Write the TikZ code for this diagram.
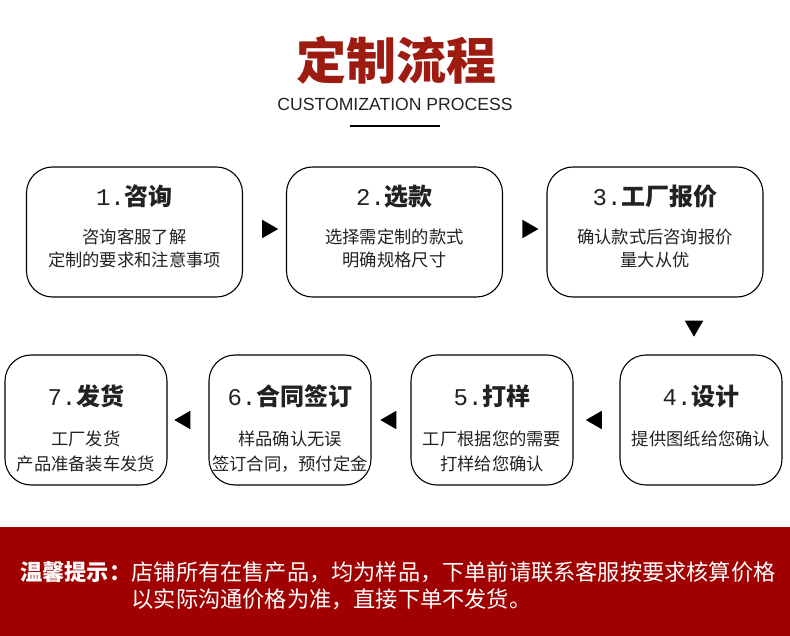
\documentclass[tikz,border=0pt]{standalone}
\usepackage{fontspec}
\setmainfont{Noto Sans CJK SC}
\newfontfamily\latinsans{Liberation Sans}
\newfontfamily\digitmono{Liberation Mono}
\usetikzlibrary{positioning,shapes.geometric}
\definecolor{cpred}{HTML}{9E1B12}
\definecolor{cpband}{HTML}{A10000}
\definecolor{cpink}{HTML}{222222}

\begin{document}
\begin{tikzpicture}[
  x=1pt, y=-1pt,
  every node/.style={inner sep=0pt},
  stagebox/.style={draw=black, line width=1.1pt, fill=white, rounded corners=26pt, minimum height=130pt},
  widebox/.style={stagebox, minimum width=216pt},
  narrowbox/.style={stagebox, minimum width=162pt},
  head/.style={font=\fontsize{24}{28}\selectfont\bfseries, text=cpink},
  bodyup/.style={font=\fontsize{17.3}{23}\selectfont, text=cpink, align=center, anchor=north},
  bodylow/.style={font=\fontsize{17.3}{25}\selectfont, text=cpink, align=center, anchor=north},
  tri/.style={isosceles triangle, isosceles triangle apex angle=60, fill=black, minimum height=16pt},
  tipnote/.style={font=\fontsize{22.2}{26}\selectfont, text=white, anchor=west}
]
\useasboundingbox (0,0) rectangle (790,636);

% heading
\node[font=\fontsize{50}{56}\selectfont\bfseries, text=cpred] (title) at (396,60) {定制流程};
\node[font=\latinsans\fontsize{17.6}{20}\selectfont, text=cpink] (subtitle) at (395,104) {CUSTOMIZATION PROCESS};
\coordinate (ruleL) at (350,126);
\coordinate (ruleR) at (440,126);
\draw[line width=1.2pt] (ruleL) -- (ruleR);

% upper row
\node[widebox] (consult) at (134.5,232) {};
\node[widebox] (choose) at (394.5,232) {};
\node[widebox] (quote) at (655,232) {};
\node[head] (consulthead) at ([yshift=-30pt]consult.north) {{\digitmono\mdseries 1.}咨询};
\node[head] (choosehead) at ([yshift=-30pt]choose.north) {{\digitmono\mdseries 2.}选款};
\node[head] (quotehead) at ([yshift=-30pt]quote.north) {{\digitmono\mdseries 3.}工厂报价};
\node[bodyup] (consulttext) at ([yshift=-62pt]consult.north) {咨询客服了解\\定制的要求和注意事项};
\node[bodyup] (choosetext) at ([yshift=-62pt]choose.north) {选择需定制的款式\\明确规格尺寸};
\node[bodyup] (quotetext) at ([yshift=-62pt]quote.north) {确认款式后咨询报价\\量大从优};

% lower row
\node[narrowbox] (design) at (701,420) {};
\node[narrowbox] (sample) at (492,420) {};
\node[narrowbox] (contract) at (290,420) {};
\node[narrowbox] (ship) at (86,420) {};
\node[head] (designhead) at ([yshift=-42pt]design.north) {{\digitmono\mdseries 4.}设计};
\node[head] (samplehead) at ([yshift=-42pt]sample.north) {{\digitmono\mdseries 5.}打样};
\node[head] (contracthead) at ([yshift=-42pt]contract.north) {{\digitmono\mdseries 6.}合同签订};
\node[head] (shiphead) at ([yshift=-42pt]ship.north) {{\digitmono\mdseries 7.}发货};
\node[bodylow] (designtext) at ([yshift=-76pt]design.north) {提供图纸给您确认};
\node[bodylow] (sampletext) at ([yshift=-76pt]sample.north) {工厂根据您的需要\\打样给您确认};
\node[bodylow] (contracttext) at ([yshift=-76pt]contract.north) {样品确认无误\\签订合同，预付定金};
\node[bodylow] (shiptext) at ([yshift=-76pt]ship.north) {工厂发货\\产品准备装车发货};

% arrows
\path (consult.east) -- node[tri, yshift=3pt, xshift=3pt] {} (choose.west);
\path (choose.east) -- node[tri, yshift=3pt, xshift=3pt] {} (quote.west);
\path (quote.south -| design.north) -- node[tri, shape border rotate=270, xshift=-7pt] {} (design.north);
\path (design.west) -- node[tri, shape border rotate=180] {} (sample.east);
\path (sample.west) -- node[tri, shape border rotate=180] {} (contract.east);
\path (contract.west) -- node[tri, shape border rotate=180, xshift=-3pt] {} (ship.east);

% notice band
\fill[cpband] (0,527) rectangle (790,636);
\node[tipnote] (tiplead) at (20,572) {\bfseries 温馨提示：};
\node[tipnote] (tipfirst) at (tiplead.east) {店铺所有在售产品，均为样品，下单前请联系客服按要求核算价格};
\node[tipnote] (tipsecond) at ([yshift=-27pt]tipfirst.west) {以实际沟通价格为准，直接下单不发货。};
\end{tikzpicture}
\end{document}
